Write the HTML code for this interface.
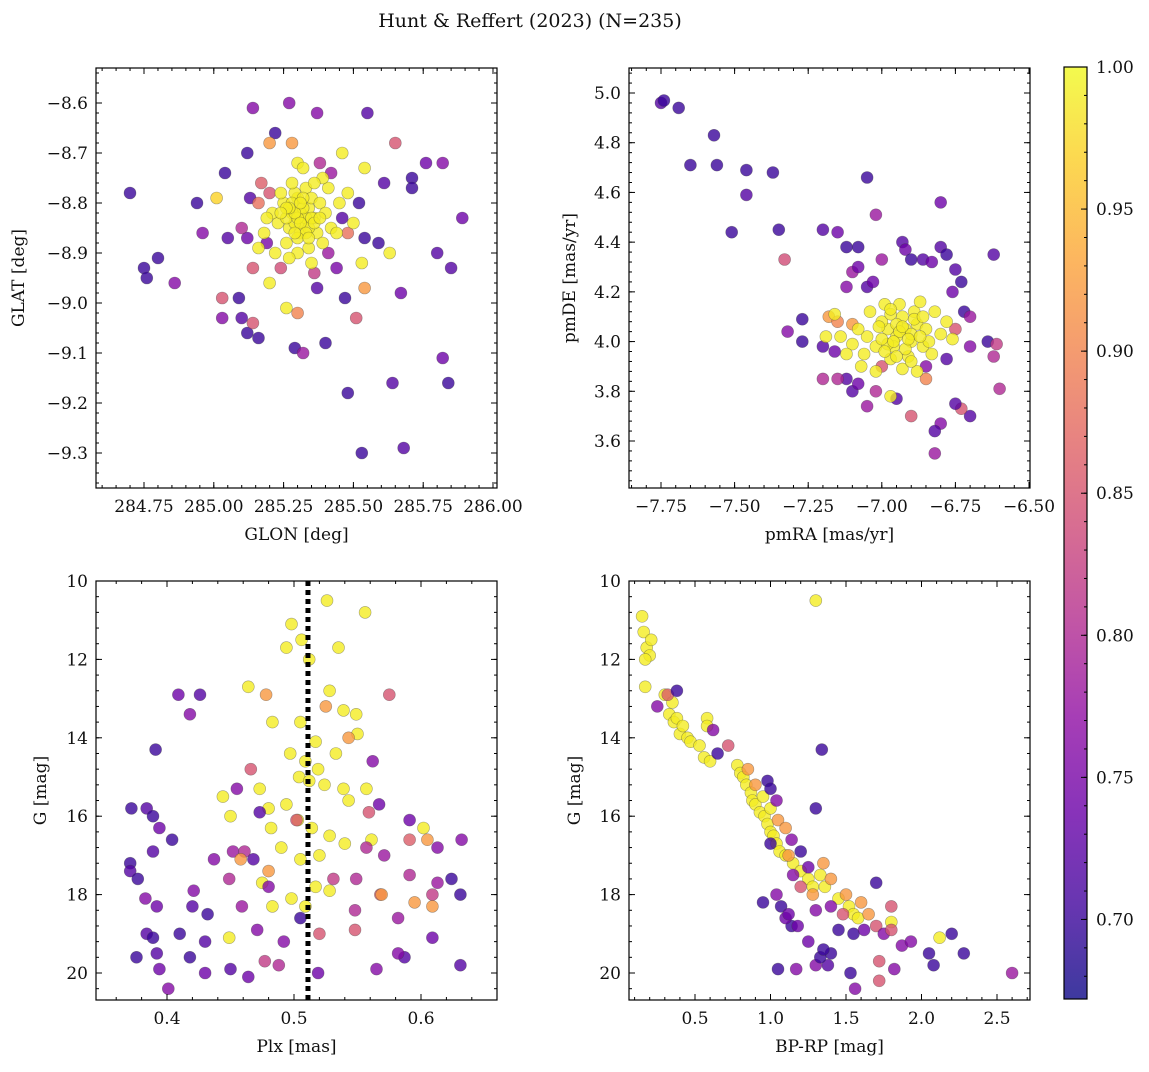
<!DOCTYPE html>
<html><head><meta charset="utf-8"><style>
body{margin:0;background:#fff;}
svg text{font-family:"DejaVu Serif","Liberation Serif",serif;fill:#111;}
</style></head><body>
<svg id="fig" width="1149" height="1067" xmlns="http://www.w3.org/2000/svg">
<defs>
<linearGradient id="cbgrad" x1="0" y1="1" x2="0" y2="0">
<stop offset="0" stop-color="#0d0887"/><stop offset="0.1" stop-color="#41049d"/><stop offset="0.2" stop-color="#6a00a8"/><stop offset="0.3" stop-color="#8f0da4"/><stop offset="0.4" stop-color="#b12a90"/><stop offset="0.5" stop-color="#cc4778"/><stop offset="0.6" stop-color="#e16462"/><stop offset="0.7" stop-color="#f2844b"/><stop offset="0.8" stop-color="#fca636"/><stop offset="0.9" stop-color="#fcce25"/><stop offset="1" stop-color="#f0f921"/>
</linearGradient>
</defs>
<text x="530" y="27" text-anchor="middle" font-size="19">Hunt &amp; Reffert (2023) (N=235)</text>
</svg>
<script>
// ---- Panel 1: GLON / GLAT ----
const p1Lon=[284.70,284.75,284.76,284.80,284.86,284.94,284.96,285.03,285.03,285.04,285.05,285.09,285.10,285.12,285.12,285.14,285.14,285.16,285.22,285.27,285.37,285.29,285.32,285.40,285.37,285.47,285.48,285.53,285.55,285.54,285.59,285.61,285.65,285.64,285.68,285.67,285.71,285.71,285.76,285.80,285.82,285.82,285.84,285.85,285.89,285.51,285.54,285.54,285.46,285.63,285.20,285.28,285.30,285.26,285.20,285.30,285.53,285.14,285.12,285.17,285.01,
285.42,285.46,285.20,285.19,285.38,285.48,285.13,285.52,285.10,285.44,285.24,285.41,285.16,285.36,
285.25,285.28,285.30,285.32,285.34,285.36,285.31,285.27,285.29,285.33,285.35,285.38,285.40,285.37,285.26,285.23,285.21,285.19,285.22,285.30,285.34,285.41,285.42,285.45,285.48,285.44,285.39,285.32,285.28,285.24,285.18,285.27,285.35,285.31,285.29,285.33,285.36,285.50,285.26,285.39,285.16,
285.30,285.32,285.28,285.34,285.29,285.31,285.33,285.27,285.35,285.30,285.26,285.32,285.36,285.29,285.24,285.38,285.31,285.34];
const p1Lat=[-8.78,-8.93,-8.95,-8.91,-8.96,-8.80,-8.86,-8.99,-9.03,-8.74,-8.87,-8.99,-9.03,-9.06,-8.70,-8.61,-9.04,-9.07,-8.66,-8.60,-8.62,-9.09,-9.10,-9.08,-8.97,-8.99,-9.18,-9.30,-8.62,-8.87,-8.88,-8.76,-8.68,-9.16,-9.29,-8.98,-8.75,-8.77,-8.72,-8.90,-9.11,-8.72,-9.16,-8.93,-8.83,-9.03,-8.97,-8.73,-8.70,-8.90,-8.68,-8.68,-8.72,-9.01,-8.96,-9.02,-8.92,-8.93,-8.87,-8.76,-8.79,
-8.74,-8.83,-8.78,-8.88,-8.72,-8.86,-8.79,-8.80,-8.85,-8.93,-8.93,-8.90,-8.80,-8.94,
-8.80,-8.82,-8.79,-8.84,-8.81,-8.83,-8.86,-8.85,-8.78,-8.77,-8.79,-8.80,-8.82,-8.86,-8.88,-8.84,-8.82,-8.83,-8.90,-8.90,-8.89,-8.77,-8.85,-8.80,-8.78,-8.86,-8.75,-8.73,-8.76,-8.78,-8.86,-8.91,-8.92,-8.82,-8.84,-8.83,-8.76,-8.84,-8.83,-8.88,-8.89,
-8.83,-8.81,-8.80,-8.85,-8.82,-8.84,-8.86,-8.81,-8.83,-8.87,-8.81,-8.79,-8.84,-8.86,-8.82,-8.83,-8.80,-8.87];
const p1Prob=[0.70,0.70,0.70,0.70,0.76,0.70,0.76,0.85,0.76,0.70,0.72,0.70,0.72,0.70,0.70,0.76,0.85,0.70,0.70,0.76,0.76,0.70,0.78,0.70,0.72,0.70,0.70,0.70,0.72,0.70,0.70,0.72,0.85,0.72,0.72,0.74,0.70,0.70,0.74,0.72,0.74,0.76,0.70,0.72,0.74,0.85,0.92,0.99,0.99,0.99,0.92,0.92,0.99,0.99,0.99,0.90,0.99,0.85,0.74,0.86,0.97,
0.78,0.72,0.85,0.75,0.80,0.88,0.72,0.70,0.80,0.75,0.84,0.78,0.88,0.82,
0.99,0.99,0.99,0.99,0.99,0.99,0.99,0.99,0.99,0.99,0.99,0.99,0.99,0.99,0.99,0.99,0.99,0.99,0.99,0.99,0.99,0.99,0.99,0.99,0.99,0.99,0.99,0.99,0.99,0.99,0.99,0.99,0.99,0.99,0.99,0.99,0.99,0.99,0.99,0.99,0.99,
0.99,0.99,0.99,0.99,0.99,0.99,0.99,0.99,0.99,0.99,0.99,0.99,0.99,0.99,0.99,0.99,0.99,0.99];
const p1XTicks=[284.75,285.00,285.25,285.50,285.75,286.00];
const p1XLabels=["284.75","285.00","285.25","285.50","285.75","286.00"];
const p1YTicks=[-8.6,-8.7,-8.8,-8.9,-9.0,-9.1,-9.2,-9.3];
const p1YLabels=["−8.6","−8.7","−8.8","−8.9","−9.0","−9.1","−9.2","−9.3"];

// ---- Panel 2: pmRA / pmDE ----
const p2Ra=[-7.75,-7.74,-7.69,-7.65,-7.57,-7.56,-7.51,-7.46,-7.46,-7.37,-7.35,-7.33,-7.27,-7.27,-7.20,-7.15,-7.12,-7.08,-7.05,-7.02,-7.10,-7.08,-7.05,-7.12,-7.18,-7.15,-7.10,-7.03,-7.00,-6.93,-6.92,-6.90,-6.86,-6.83,-6.80,-6.80,-6.78,-6.75,-6.73,-6.76,-6.72,-6.70,-6.62,-6.64,-6.61,-6.62,-6.60,-6.70,-6.73,-6.75,-6.80,-6.82,-6.82,-6.90,-6.95,-6.97,-6.85,-7.05,-7.12,-7.15,-7.10,-7.08,-7.20,-7.02,-7.00,-7.20,-7.16,-6.85,-6.78,-6.70,-6.75,-7.32,
-6.95,-6.92,-6.90,-6.88,-6.96,-6.98,-7.00,-6.93,-6.89,-6.85,-6.86,-6.91,-6.97,-7.02,-7.05,-7.08,-7.10,-7.12,-7.07,-7.02,-6.99,-6.94,-6.87,-6.82,-6.80,-6.83,-6.78,-6.76,-6.93,-6.88,-7.14,-7.04,-6.95,-6.90,-6.98,-7.00,-6.84,-7.06,-6.92,-6.97,
-6.94,-6.91,-6.96,-6.89,-6.93,-6.99,-6.87,-6.95,-7.01,-6.90,-6.86,-6.97,-7.16,-7.19];
const p2De=[4.96,4.97,4.94,4.71,4.83,4.71,4.44,4.69,4.59,4.68,4.45,4.33,4.09,4.00,4.45,4.44,4.38,4.38,4.66,4.51,4.28,4.30,4.22,4.22,4.10,4.08,4.07,4.24,4.33,4.40,4.37,4.33,4.33,4.32,4.38,4.56,4.35,4.29,4.24,4.20,4.12,4.10,4.35,4.00,3.99,3.94,3.81,3.70,3.73,3.75,3.67,3.64,3.55,3.70,3.77,3.78,3.85,3.74,3.85,3.85,3.80,3.83,3.85,3.80,3.90,3.98,3.96,3.90,3.93,3.98,4.05,4.04,
4.02,4.05,4.00,4.07,3.98,4.05,4.08,4.10,4.12,4.05,3.98,3.94,3.93,3.98,4.02,4.05,3.99,3.95,3.90,3.88,4.15,4.15,4.16,4.12,4.03,3.95,4.08,4.01,3.89,3.88,4.02,4.12,4.07,4.03,3.99,4.01,4.00,3.95,3.97,4.11,
4.04,4.01,4.00,4.09,4.06,3.96,4.02,3.94,4.06,3.92,4.10,4.13,4.11,4.02];
const p2Prob=[0.72,0.70,0.70,0.70,0.70,0.70,0.70,0.70,0.72,0.70,0.70,0.84,0.70,0.70,0.72,0.74,0.70,0.70,0.70,0.78,0.78,0.74,0.72,0.76,0.92,0.90,0.92,0.74,0.78,0.72,0.74,0.70,0.72,0.74,0.72,0.74,0.70,0.72,0.70,0.74,0.70,0.78,0.72,0.70,0.82,0.80,0.80,0.72,0.85,0.72,0.76,0.72,0.78,0.85,0.72,0.99,0.90,0.78,0.72,0.80,0.72,0.74,0.80,0.80,0.85,0.72,0.74,0.76,0.72,0.76,0.85,0.76,
0.99,0.99,0.99,0.99,0.99,0.99,0.99,0.99,0.99,0.99,0.99,0.99,0.99,0.99,0.99,0.99,0.99,0.99,0.99,0.99,0.99,0.99,0.99,0.99,0.99,0.99,0.99,0.99,0.99,0.99,0.99,0.99,0.99,0.99,0.99,0.99,0.99,0.99,0.99,0.99,
0.99,0.99,0.99,0.99,0.99,0.99,0.99,0.99,0.99,0.99,0.99,0.99,0.99,0.99];
const p2XTicks=[-7.75,-7.50,-7.25,-7.00,-6.75,-6.50];
const p2XLabels=["−7.75","−7.50","−7.25","−7.00","−6.75","−6.50"];
const p2YTicks=[3.6,3.8,4.0,4.2,4.4,4.6,4.8,5.0];
const p2YLabels=["3.6","3.8","4.0","4.2","4.4","4.6","4.8","5.0"];

// ---- Panel 3: Plx / G ----
const p3Plx=[0.526,0.498,0.506,0.512,0.494,0.535,0.556,0.464,0.528,0.483,0.505,0.539,0.549,0.517,0.497,0.509,0.533,0.550,0.444,0.473,0.480,0.504,0.494,0.524,0.539,0.543,0.557,0.450,0.482,0.490,0.503,0.514,0.520,0.528,0.540,0.475,0.498,0.509,0.528,0.561,0.449,0.483,0.517,0.602,0.505,0.512,0.519,
0.525,0.478,0.575,0.543,0.562,0.466,0.426,0.418,0.409,0.391,0.372,0.384,0.389,0.394,0.404,0.389,0.371,0.371,0.377,0.383,0.392,0.384,0.389,0.376,0.392,0.394,0.401,0.410,0.421,0.420,0.432,0.430,0.418,0.430,0.437,0.455,0.452,0.461,0.468,0.459,0.471,0.477,0.464,0.450,0.492,0.505,0.519,0.520,0.502,0.531,0.549,0.548,0.548,0.565,0.557,0.571,0.559,0.567,0.568,0.582,0.587,0.582,0.591,0.591,0.605,0.613,0.609,0.609,0.609,0.632,0.631,0.631,0.624,0.613,0.591,0.569,0.595,0.449,0.458,0.480,0.480,0.488,0.473];
const p3G=[10.5,11.1,11.5,12.0,11.7,11.7,10.8,12.7,12.8,13.6,13.6,13.3,13.4,14.1,14.4,14.6,14.4,13.9,15.5,15.3,15.8,15.0,15.7,15.2,15.3,15.6,15.3,16.0,16.3,16.8,16.1,16.3,17.0,16.5,16.7,17.7,18.1,18.3,17.9,16.6,19.1,18.3,17.8,16.3,17.1,15.1,14.8,
13.2,12.9,12.9,14.0,14.6,14.8,12.9,13.4,12.9,14.3,15.8,15.8,16.0,16.3,16.6,16.9,17.2,17.4,17.6,18.1,18.3,19.0,19.1,19.6,19.5,19.9,20.4,19.0,17.9,18.3,18.5,19.2,19.6,20.0,17.1,15.3,16.9,16.9,17.1,18.3,18.9,19.7,20.1,19.9,19.2,18.6,20.0,19.0,16.1,17.6,17.6,18.4,18.9,19.9,16.8,17.0,15.9,15.7,18.0,18.6,19.6,19.5,17.5,16.1,16.6,16.8,18.0,18.3,19.1,16.6,18.0,19.8,17.6,17.7,16.6,18.0,18.2,17.6,17.1,17.4,17.8,19.8,15.9];
const p3Prob=[0.99,0.99,0.99,0.99,0.99,0.99,0.99,0.99,0.99,0.99,0.99,0.99,0.99,0.99,0.99,0.99,0.99,0.99,0.99,0.99,0.99,0.99,0.99,0.99,0.99,0.99,0.99,0.99,0.99,0.99,0.99,0.99,0.99,0.99,0.99,0.99,0.99,0.99,0.99,0.99,0.99,0.99,0.99,0.99,0.99,0.99,0.99,
0.92,0.92,0.85,0.92,0.76,0.85,0.72,0.76,0.74,0.70,0.70,0.72,0.70,0.74,0.70,0.72,0.70,0.72,0.70,0.76,0.74,0.72,0.70,0.70,0.72,0.74,0.76,0.70,0.76,0.72,0.70,0.72,0.70,0.74,0.76,0.76,0.78,0.80,0.72,0.78,0.76,0.82,0.74,0.72,0.76,0.70,0.74,0.85,0.85,0.82,0.80,0.80,0.85,0.76,0.80,0.78,0.85,0.74,0.86,0.78,0.72,0.76,0.80,0.74,0.92,0.76,0.82,0.92,0.74,0.76,0.70,0.72,0.70,0.78,0.86,0.92,0.92,0.80,0.92,0.92,0.76,0.80,0.72,0.85];
const p3XTicks=[0.4,0.5,0.6];
const p3XLabels=["0.4","0.5","0.6"];
const p3YTicks=[10,12,14,16,18,20];
const p3YLabels=["10","12","14","16","18","20"];
const p3Vline=[0.511];

// ---- Panel 4: BP-RP / G ----
const p4C=[0.15,0.16,0.18,0.20,0.17,0.21,0.17,0.30,0.35,0.33,0.36,0.38,0.40,0.42,0.45,0.47,0.53,0.56,0.58,0.58,0.60,0.78,0.80,0.82,0.84,0.87,0.88,0.90,0.93,0.96,0.98,1.00,1.02,1.04,1.06,1.10,1.15,1.20,1.25,1.28,1.33,1.36,1.45,1.52,1.55,1.58,1.80,2.12,1.30,1.00,0.95,
0.32,0.25,0.38,0.62,0.65,0.72,0.85,0.98,1.00,1.04,1.34,1.30,1.05,1.10,1.14,1.00,1.12,1.20,1.25,1.35,1.40,1.50,1.60,1.70,1.80,1.65,1.70,1.75,1.80,1.87,1.93,2.05,2.08,2.20,2.28,2.60,1.72,1.56,1.53,1.40,1.38,1.30,1.33,1.17,1.05,1.25,1.35,1.14,1.10,1.18,1.07,0.95,1.04,1.12,1.30,1.40,1.45,1.55,1.48,1.62,1.72,1.82,1.28,1.20,1.15,0.90];
const p4G=[10.9,11.3,11.7,11.9,12.0,11.5,12.7,12.9,13.1,13.4,13.6,13.5,13.9,13.7,14.0,14.1,14.2,14.5,13.5,13.7,14.6,14.7,14.9,15.0,15.2,15.4,15.6,15.7,15.9,16.0,16.2,16.4,16.5,16.7,16.9,17.0,17.2,17.4,17.6,17.8,17.5,17.8,18.1,18.3,18.5,18.6,18.7,19.1,10.5,15.8,15.5,
12.9,13.2,12.8,13.8,14.4,14.2,14.8,15.1,15.3,15.6,14.3,15.8,16.1,16.3,16.6,16.7,17.0,16.9,17.3,17.2,17.6,18.0,18.2,17.7,18.3,18.5,18.8,19.0,18.9,19.3,19.2,19.5,19.8,19.0,19.5,20.0,20.2,20.4,20.0,19.5,19.8,19.8,19.6,19.9,19.9,19.2,19.4,18.8,18.6,18.8,18.3,18.2,18.0,18.5,18.4,18.3,18.9,19.0,18.5,18.9,19.7,19.9,18.0,17.8,17.5,15.2];
const p4Prob=[0.99,0.99,0.99,0.99,0.99,0.99,0.99,0.99,0.99,0.99,0.99,0.99,0.99,0.99,0.99,0.99,0.99,0.99,0.99,0.99,0.99,0.99,0.99,0.99,0.99,0.99,0.99,0.99,0.99,0.99,0.99,0.99,0.99,0.99,0.99,0.99,0.99,0.99,0.99,0.99,0.99,0.99,0.99,0.99,0.99,0.99,0.99,0.99,0.99,0.99,0.99,
0.86,0.76,0.70,0.76,0.70,0.85,0.92,0.70,0.70,0.76,0.70,0.70,0.92,0.92,0.76,0.70,0.92,0.70,0.74,0.92,0.92,0.92,0.92,0.70,0.85,0.92,0.85,0.76,0.85,0.76,0.76,0.70,0.70,0.70,0.70,0.78,0.85,0.76,0.70,0.70,0.72,0.76,0.70,0.76,0.70,0.74,0.70,0.70,0.74,0.74,0.70,0.70,0.76,0.74,0.76,0.76,0.70,0.70,0.85,0.74,0.85,0.76,0.92,0.85,0.76,0.92];
const p4XTicks=[0.5,1.0,1.5,2.0,2.5];
const p4XLabels=["0.5","1.0","1.5","2.0","2.5"];
const p4YTicks=p3YTicks, p4YLabels=p3YLabels;

const cbTicks=[0.70,0.75,0.80,0.85,0.90,0.95,1.00];
const cbLabels=["0.70","0.75","0.80","0.85","0.90","0.95","1.00"];

const NS="http://www.w3.org/2000/svg";
const svg=document.getElementById('fig');
function mk(tag,attrs,parent){const e=document.createElementNS(NS,tag);for(const k in attrs)e.setAttribute(k,attrs[k]);(parent||svg).appendChild(e);return e;}
const stops=[[0,13,8,135],[0.1,65,4,157],[0.2,106,0,168],[0.3,143,13,164],[0.4,177,42,144],[0.5,204,71,120],[0.6,225,100,98],[0.7,242,132,75],[0.8,252,166,54],[0.9,252,206,37],[1,240,249,33]];
const vmin=0.672,vmax=1.0;
function plasma(v){let t=(v-vmin)/(vmax-vmin);t=Math.max(0,Math.min(1,t));for(let i=1;i<stops.length;i++){if(t<=stops[i][0]){const a=stops[i-1],b=stops[i],f=(t-a[0])/(b[0]-a[0]);return `rgb(${Math.round(a[1]+f*(b[1]-a[1]))},${Math.round(a[2]+f*(b[2]-a[2]))},${Math.round(a[3]+f*(b[3]-a[3]))})`;}}return 'rgb(240,249,33)';}
function lin(d0,d1,p0,p1){return v=>p0+(v-d0)/(d1-d0)*(p1-p0);}

function panel(cfg){
  const g=mk('g',{});
  
  
  const {L,T,R,B}=cfg; const sx=cfg.sx, sy=cfg.sy;
  const pts=mk('g',{},g);
  
  
  for(let i=0;i<cfg.xs.length;i++){
    const c=mk('circle',{cx:sx(cfg.xs[i]).toFixed(1),cy:sy(cfg.ys[i]).toFixed(1),r:6,fill:plasma(cfg.pr[i]),'fill-opacity':0.8,stroke:'rgba(60,60,60,0.45)','stroke-width':0.6},pts);
    
    
  }
  if(cfg.vline){for(const v of cfg.vline){const l=mk('line',{x1:sx(v),x2:sx(v),y1:T,y2:B,stroke:'#000','stroke-width':5,'stroke-dasharray':'5,4'},g);
    
    }}
  const fr=mk('rect',{x:L,y:T,width:R-L,height:B-T,fill:'none',stroke:'#000','stroke-width':1.2},g);
  
  
  const xr=[sx.inv(L),sx.inv(R)].sort((a,b)=>a-b), yr=[sy.inv(B),sy.inv(T)].sort((a,b)=>a-b);
  for(let v=Math.ceil(xr[0]/cfg.xm-1e-9)*cfg.xm;v<=xr[1]+1e-9;v+=cfg.xm){const x=sx(v);mk('line',{x1:x,x2:x,y1:B,y2:B-3,stroke:'#000'},g);mk('line',{x1:x,x2:x,y1:T,y2:T+3,stroke:'#000'},g);}
  for(let v=Math.ceil(yr[0]/cfg.ym-1e-9)*cfg.ym;v<=yr[1]+1e-9;v+=cfg.ym){const y=sy(v);mk('line',{x1:L,x2:L+3,y1:y,y2:y,stroke:'#000'},g);mk('line',{x1:R,x2:R-3,y1:y,y2:y,stroke:'#000'},g);}
  cfg.xt.forEach((v,i)=>{const x=sx(v);mk('line',{x1:x,x2:x,y1:B,y2:B-6,stroke:'#000'},g);mk('line',{x1:x,x2:x,y1:T,y2:T+6,stroke:'#000'},g);
    const t=mk('text',{x:x,y:B+24,'text-anchor':'middle','font-size':17},g);t.textContent=cfg.xl[i];
    
    });
  cfg.yt.forEach((v,i)=>{const y=sy(v);mk('line',{x1:L,x2:L+6,y1:y,y2:y,stroke:'#000'},g);mk('line',{x1:R,x2:R-6,y1:y,y2:y,stroke:'#000'},g);
    const t=mk('text',{x:L-8,y:y+6,'text-anchor':'end','font-size':17},g);t.textContent=cfg.yl[i];
    
    });
  const xt=mk('text',{x:(L+R)/2,y:B+52,'text-anchor':'middle','font-size':17},g);xt.textContent=cfg.xlabel;
  
  
  const yt=mk('text',{x:0,y:0,'text-anchor':'middle','font-size':17,transform:`translate(${cfg.ylx},${(T+B)/2}) rotate(-90)`},g);yt.textContent=cfg.ylabel;
  
  
}
function scale(d0,d1,p0,p1){const f=lin(d0,d1,p0,p1);f.inv=lin(p0,p1,d0,d1);return f;}

panel({name:'glon-glat-panel',L:96,T:68,R:497,B:488,sx:scale(284.75,286.0,144,493),sy:scale(-8.6,-9.3,103,453),xs:p1Lon,ys:p1Lat,pr:p1Prob,xt:p1XTicks,xl:p1XLabels,yt:p1YTicks,yl:p1YLabels,xm:0.05,ym:0.02,xlabel:'GLON [deg]',ylabel:'GLAT [deg]',ylx:24});
panel({name:'proper-motion-panel',L:629,T:68,R:1030,B:488,sx:scale(-7.75,-6.5,661,1029),sy:scale(5.0,3.6,93,441),xs:p2Ra,ys:p2De,pr:p2Prob,xt:p2XTicks,xl:p2XLabels,yt:p2YTicks,yl:p2YLabels,xm:0.05,ym:0.04,xlabel:'pmRA [mas/yr]',ylabel:'pmDE [mas/yr]',ylx:575});
panel({name:'parallax-magnitude-panel',L:96,T:581,R:497,B:1000,sx:scale(0.4,0.6,167,421),sy:scale(10,20,581,973),xs:p3Plx,ys:p3G,pr:p3Prob,xt:p3XTicks,xl:p3XLabels,yt:p3YTicks,yl:p3YLabels,xm:0.02,ym:0.4,xlabel:'Plx [mas]',ylabel:'G [mag]',ylx:46,vline:p3Vline});
panel({name:'color-magnitude-panel',L:629,T:581,R:1030,B:1000,sx:scale(0.5,2.5,695,997),sy:scale(10,20,581,973),xs:p4C,ys:p4G,pr:p4Prob,xt:p4XTicks,xl:p4XLabels,yt:p4YTicks,yl:p4YLabels,xm:0.1,ym:0.4,xlabel:'BP-RP [mag]',ylabel:'G [mag]',ylx:580});

const cb=mk('g',{});


const cbL=1064,cbR=1087,cbT=67,cbB=999;
mk('rect',{x:cbL,y:cbT,width:cbR-cbL,height:cbB-cbT,fill:'url(#cbgrad)','fill-opacity':0.8},cb);
mk('rect',{x:cbL,y:cbT,width:cbR-cbL,height:cbB-cbT,fill:'none',stroke:'#000','stroke-width':1.2},cb);
const cy=lin(vmin,vmax,cbB,cbT);
for(let v=0.68;v<=1.0001;v+=0.01){const y=cy(v);mk('line',{x1:cbR,x2:cbR-3,y1:y,y2:y,stroke:'#000'},cb);}
cbTicks.forEach((v,i)=>{const y=cy(v);mk('line',{x1:cbR,x2:cbR-6,y1:y,y2:y,stroke:'#000'},cb);
  const t=mk('text',{x:cbR+9,y:y+6,'font-size':17},cb);t.textContent=cbLabels[i];
  
  });
</script>
</body></html>
